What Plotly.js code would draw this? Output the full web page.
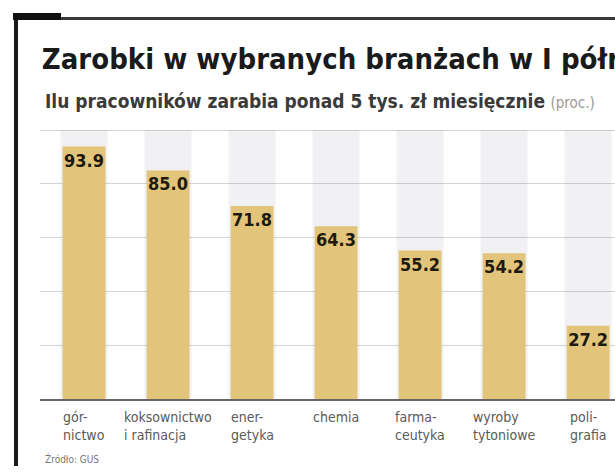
<!DOCTYPE html>
<html>
<head>
<meta charset="utf-8">
<script src="https://cdn.plot.ly/plotly-3.0.1.min.js"></script>
<style>
  html, body { margin: 0; padding: 0; background: #fff; overflow: hidden; }
  #wrap { position: relative; width: 615px; height: 473px; }
  #chart { width: 615px; height: 473px; }
  .frame { position: absolute; pointer-events: none; }
</style>
</head>
<body>
<div id="wrap">
  <div id="chart"></div>
  <!-- ramka w stylu gazetowym -->
  <div class="frame" style="left:14px;top:14px;width:4px;height:452px;background:#1a1a1a"></div>
  <div class="frame" style="left:16px;top:17px;width:600px;height:3px;background:#3a3a3a"></div>
  <div class="frame" style="left:13px;top:13px;width:48px;height:7px;background:#111"></div>
</div>
<script>
  var categories = ['gór-<br>nictwo', 'koksownictwo<br>i rafinacja', 'ener-<br>getyka', 'chemia',
                    'farma-<br>ceutyka', 'wyroby<br>tytoniowe', 'poli-<br>grafia'];
  var values = [93.9, 85.0, 71.8, 64.3, 55.2, 54.2, 27.2];
  var yMax = 100;

  var narrow = 'Liberation Sans Narrow, DejaVu Sans Condensed, Arial Narrow, sans-serif';
  var barColor = '#e2c47a';

  // jasne pasy w tle kolumn
  var bands = {
    x: categories,
    y: categories.map(function () { return yMax; }),
    type: 'bar',
    width: 0.56,
    marker: {color: 'rgba(120,120,140,0.10)'},
    hoverinfo: 'skip',
    showlegend: false
  };

  var bars = {
    x: categories,
    y: values,
    type: 'bar',
    width: 0.51,
    marker: {color: barColor},
    texttemplate: '<b>%{y:.1f}</b>',
    textposition: 'inside',
    insidetextanchor: 'end',
    textangle: 0,
    constraintext: 'none',
    textfont: {family: narrow, size: 18, color: '#1e1a10'},
    showlegend: false
  };

  // podpisy pod słupkami, wyrównane do lewej
  var labels = categories.map(function (c) {
    return { xref: 'x', yref: 'y', x: c, y: 0,
             xanchor: 'center', yanchor: 'top', yshift: -8, align: 'left',
             text: c, showarrow: false,
             font: {family: narrow, size: 14, color: '#5a5a5a'} };
  });

  var layout = {
    width: 615,
    height: 473,
    margin: {l: 40, r: 0, t: 128, b: 74},
    paper_bgcolor: '#fff',
    plot_bgcolor: '#fff',
    barmode: 'overlay',
    title: {
      text: '<b>Zarobki w wybranych branżach w I półroczu</b>',
      font: {family: narrow, size: 29, color: '#1a1a1a'},
      xref: 'container', yref: 'container',
      x: 0.068, xanchor: 'left',
      y: 0.875, yanchor: 'middle'
    },
    xaxis: {
      type: 'category',
      range: [-0.524, 6.32],
      showline: true,
      linecolor: '#666',
      linewidth: 2,
      showgrid: false,
      ticks: '',
      showticklabels: false
    },
    yaxis: {
      range: [0, 100.8],
      dtick: 20,
      showticklabels: false,
      showgrid: true,
      gridcolor: '#d4d4d4',
      gridwidth: 1,
      zeroline: false,
      fixedrange: true
    },
    annotations: labels.concat([
      { xref: 'paper', yref: 'paper',
        x: 0.005, y: 1.0, xanchor: 'left', yanchor: 'bottom', yshift: 14,
        text: '<b>Ilu pracowników zarabia ponad 5 tys. zł miesięcznie</b> <span style="color:#999;font-size:15px">(proc.)</span>',
        font: {family: narrow, size: 19, color: '#3a3a3a'},
        showarrow: false },
      { xref: 'paper', yref: 'paper',
        x: 0.005, y: 0, xanchor: 'left', yanchor: 'top', yshift: -52,
        text: 'Źródło: GUS',
        font: {family: narrow, size: 10, color: '#777'},
        showarrow: false }
    ])
  };

  Plotly.newPlot('chart', [bands, bars], layout, {displayModeBar: false, responsive: false});
</script>
</body>
</html>
